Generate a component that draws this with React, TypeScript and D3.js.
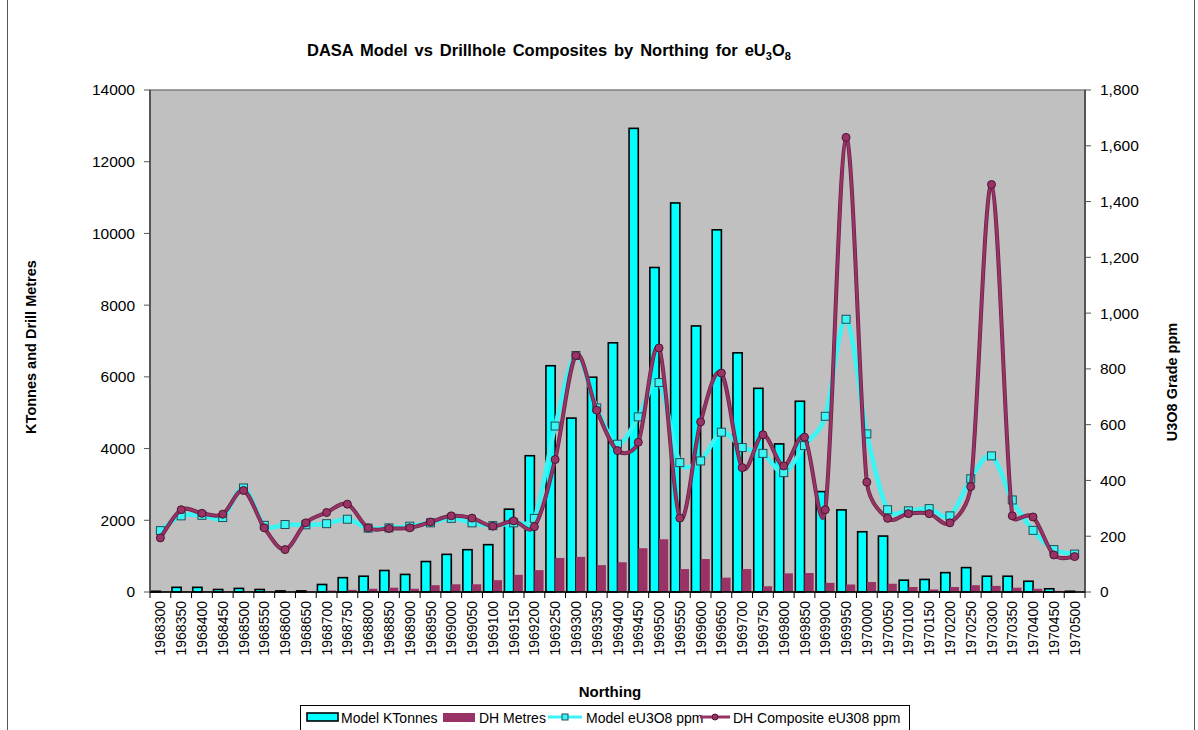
import React from 'react';
import * as d3 from 'd3';

const northings = [
  '1968300', '1968350', '1968400', '1968450', '1968500', '1968550', '1968600', '1968650', '1968700',
  '1968750', '1968800', '1968850', '1968900', '1968950', '1969000', '1969050', '1969100', '1969150',
  '1969200', '1969250', '1969300', '1969350', '1969400', '1969450', '1969500', '1969550', '1969600',
  '1969650', '1969700', '1969750', '1969800', '1969850', '1969900', '1969950', '1970000', '1970050',
  '1970100', '1970150', '1970200', '1970250', '1970300', '1970350', '1970400', '1970450', '1970500',
];

const modelKTonnes = [
  20, 130, 130, 70, 100, 70, 30, 30, 210, 400, 440, 600, 490, 850, 1050, 1180, 1320, 2310, 3800,
  6310, 4850, 5990, 6950, 12930, 9050, 10850, 7420, 10100, 6670, 5680, 4130, 5320, 2800, 2290,
  1680, 1560, 330, 350, 540, 680, 440, 440, 300, 90, 20,
];

const dhMetres = [
  10, 20, 20, 10, 20, 10, 10, 10, 40, 60, 90, 120, 90, 190, 215, 215, 330, 480, 610, 950, 980,
  750, 830, 1220, 1470, 640, 920, 400, 640, 160, 520, 530, 255, 210, 280, 230, 140, 70, 140, 190,
  170, 120, 90, 30, 5,
];

const modelGrade = [
  220, 273, 275, 267, 373, 239, 242, 241, 245, 261, 229, 230, 236, 248, 264, 248, 238, 248, 264,
  595, 848, 660, 530, 628, 751, 464, 470, 573, 518, 497, 428, 525, 630, 978, 567, 295, 291, 299,
  273, 406, 488, 330, 221, 152, 136,
];

const dhGrade = [
  194, 295, 282, 279, 364, 230, 152, 248, 285, 315, 230, 228, 230, 251, 273, 265, 236, 255, 234,
  475, 848, 652, 507, 537, 875, 265, 610, 785, 446, 564, 452, 555, 295, 1630, 394, 264, 281, 281,
  248, 378, 1461, 273, 269, 133, 127,
];

const leftTicks = [0, 2000, 4000, 6000, 8000, 10000, 12000, 14000];
const rightTicks = [0, 200, 400, 600, 800, 1000, 1200, 1400, 1600, 1800];

const FONT = '"Liberation Sans", Arial, sans-serif';
const CYAN = '#00FFFF';
const LINE_CYAN = '#3CF4F4';
const MAROON = '#993366';

// Excel-style smoothed line: Catmull-Rom bezier with control vectors capped at half the segment length
function excelSmooth(pts: [number, number][]): string {
  const path = d3.path();
  const dist = (a: [number, number], b: [number, number]) => Math.hypot(a[0] - b[0], a[1] - b[1]);
  path.moveTo(pts[0][0], pts[0][1]);
  for (let i = 0; i < pts.length - 1; i++) {
    const p1 = pts[i];
    const p2 = pts[i + 1];
    const p0 = i > 0 ? pts[i - 1] : p1;
    const p3 = i + 2 < pts.length ? pts[i + 2] : p2;
    const d02 = dist(p0, p2);
    const d12 = dist(p1, p2);
    const d13 = dist(p1, p3);
    let f1 = 1 / 6;
    let f2 = 1 / 6;
    if (d02 / 6 >= d12 / 2 && d02 > 0) f1 = d12 / d02 / 2;
    if (d13 / 6 >= d12 / 2 && d13 > 0) f2 = d12 / d13 / 2;
    const c1x = p1[0] + (p2[0] - p0[0]) * f1;
    const c1y = p1[1] + (p2[1] - p0[1]) * f1;
    const c2x = p2[0] - (p3[0] - p1[0]) * f2;
    const c2y = p2[1] - (p3[1] - p1[1]) * f2;
    path.bezierCurveTo(c1x, c1y, c2x, c2y, p2[0], p2[1]);
  }
  return path.toString();
}

export default function App() {
  const L = 150, R = 1085, T = 90, B = 592;
  const x = d3.scaleBand<string>().domain(northings).range([L, R]).paddingInner(0).paddingOuter(0);
  const bw = x.bandwidth();
  const sub = d3.scaleBand<string>().domain(['kt', 'dh']).range([0, bw]).paddingInner(0).paddingOuter(0.13);
  const yL = d3.scaleLinear().domain([0, 14000]).range([B, T]);
  const yR = d3.scaleLinear().domain([0, 1800]).range([B, T]);
  const cx = (i: number) => (x(northings[i]) as number) + bw / 2;
  const toPts = (vals: number[]) => vals.map((v, i) => [cx(i), yR(v)] as [number, number]);
  const modelPath = excelSmooth(toPts(modelGrade));
  const dhPath = excelSmooth(toPts(dhGrade));

  const fmt = d3.format(',');

  return (
    <svg
      width={1198}
      height={730}
      style={{ position: 'absolute', left: 0, top: 0, background: '#fff' }}
      fontFamily={FONT}
    >
      <rect x={0} y={0} width={1198} height={730} fill="#fff" />
      <line x1={7.5} y1={0} x2={7.5} y2={730} stroke="#555" strokeWidth={1} />
      <line x1={1194.5} y1={0} x2={1194.5} y2={730} stroke="#555" strokeWidth={1} />

      {/* Title */}
      <text x={307} y={56} fontSize={16.5} fontWeight="bold" fill="#000" wordSpacing={2.3}>
        DASA Model vs Drillhole Composites by Northing for eU
        <tspan fontSize={11} dy={4}>3</tspan>
        <tspan dy={-4}>O</tspan>
        <tspan fontSize={11} dy={4}>8</tspan>
      </text>

      {/* Plot area */}
      <rect x={L} y={T} width={R - L} height={B - T} fill="#C0C0C0" stroke="#808080" strokeWidth={1.5} />

      {/* Bars */}
      {northings.map((n, i) => {
        const x0 = x(n) as number;
        const hk = B - yL(modelKTonnes[i]);
        const hd = B - yL(dhMetres[i]);
        return (
          <g key={n}>
            <rect
              x={x0 + (sub('kt') as number)}
              y={yL(modelKTonnes[i])}
              width={sub.bandwidth()}
              height={hk}
              fill={CYAN}
              stroke="#000"
              strokeWidth={1.6}
            />
            <rect
              x={x0 + (sub('dh') as number)}
              y={yL(dhMetres[i])}
              width={sub.bandwidth()}
              height={hd}
              fill={MAROON}
            />
          </g>
        );
      })}

      {/* Axes lines */}
      <line x1={L} y1={T} x2={L} y2={B} stroke="#555" strokeWidth={2} />
      <line x1={R} y1={T} x2={R} y2={B} stroke="#555" strokeWidth={2} />
      <line x1={L} y1={B} x2={R} y2={B} stroke="#000" strokeWidth={1.5} />

      {/* Lines */}
      <path d={modelPath} fill="none" stroke={LINE_CYAN} strokeWidth={4.5} />
      {modelGrade.map((v, i) => (
        <rect
          key={'ms' + i}
          x={cx(i) - 4}
          y={yR(v) - 4}
          width={8}
          height={8}
          fill={LINE_CYAN}
          stroke="#1F4F55"
          strokeWidth={1}
        />
      ))}
      <path d={dhPath} fill="none" stroke="#6B2446" strokeWidth={4} />
      <path d={dhPath} fill="none" stroke={MAROON} strokeWidth={2.4} />
      {dhGrade.map((v, i) => (
        <circle key={'dc' + i} cx={cx(i)} cy={yR(v)} r={4} fill={MAROON} stroke="#4A1530" strokeWidth={1} />
      ))}

      {/* Left axis ticks */}
      {leftTicks.map((t) => (
        <g key={'l' + t}>
          <line x1={L - 6} y1={yL(t)} x2={L} y2={yL(t)} stroke="#555" strokeWidth={1} />
          <text x={L - 15} y={yL(t)} dy="0.35em" textAnchor="end" fontSize={15.5} fill="#000">
            {t}
          </text>
        </g>
      ))}
      {/* Right axis ticks */}
      {rightTicks.map((t) => (
        <g key={'r' + t}>
          <line x1={R} y1={yR(t)} x2={R + 6} y2={yR(t)} stroke="#555" strokeWidth={1} />
          <text x={R + 15} y={yR(t)} dy="0.35em" textAnchor="start" fontSize={15.5} fill="#000">
            {fmt(t)}
          </text>
        </g>
      ))}
      {/* X ticks */}
      {northings.map((n) => (
        <line key={'xt' + n} x1={x(n) as number} y1={B} x2={x(n) as number} y2={B + 6} stroke="#000" strokeWidth={1} />
      ))}
      <line x1={R} y1={B} x2={R} y2={B + 6} stroke="#000" strokeWidth={1} />
      {northings.map((n, i) => (
        <text
          key={'xl' + n}
          transform={`translate(${cx(i)},${B + 9}) rotate(-90)`}
          textAnchor="end"
          dy="0.36em"
          fontSize={14}
          fill="#000"
        >
          {n}
        </text>
      ))}

      {/* Axis titles */}
      <text transform="translate(36,347) rotate(-90)" textAnchor="middle" fontSize={14.5} fontWeight="bold">
        KTonnes and Drill Metres
      </text>
      <text transform="translate(1177,382) rotate(-90)" textAnchor="middle" fontSize={14.5} fontWeight="bold">
        U3O8 Grade ppm
      </text>
      <text x={610} y={697} textAnchor="middle" fontSize={15} fontWeight="bold">
        Northing
      </text>

      {/* Legend */}
      <rect x={300.5} y={705.5} width={609} height={40} fill="#fff" stroke="#000" strokeWidth={1} />
      <rect x={307} y={713} width={31} height={8} fill={CYAN} stroke="#000" strokeWidth={1.6} />
      <text x={341} y={723} fontSize={14}>Model KTonnes</text>
      <rect x={443} y={713} width={32} height={9} fill={MAROON} />
      <text x={479} y={723} fontSize={14}>DH Metres</text>
      <line x1={548} y1={717} x2={582} y2={717} stroke={LINE_CYAN} strokeWidth={3} />
      <rect x={562} y={714} width={6} height={6} fill={LINE_CYAN} stroke="#1F4F55" strokeWidth={1} />
      <text x={586} y={723} fontSize={14}>Model eU3O8 ppm</text>
      <line x1={700} y1={717} x2={730} y2={717} stroke={MAROON} strokeWidth={3} />
      <circle cx={715} cy={717} r={3} fill={MAROON} stroke="#4A1530" strokeWidth={1} />
      <text x={733} y={723} fontSize={14}>DH Composite eU308 ppm</text>
    </svg>
  );
}
